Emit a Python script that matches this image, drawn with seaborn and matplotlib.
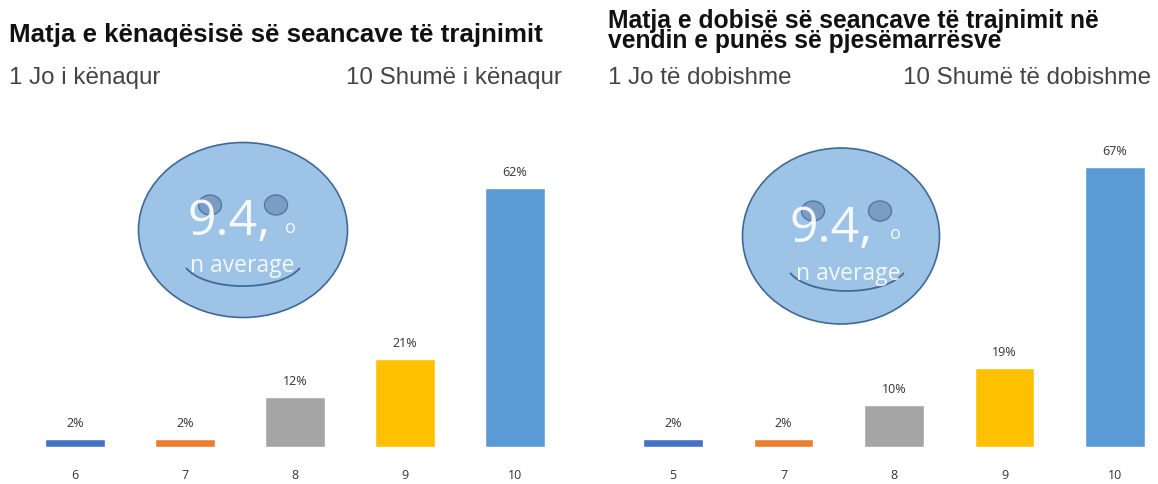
import matplotlib
matplotlib.use('Agg')
import matplotlib.pyplot as plt
from matplotlib.patches import Ellipse, Arc
import pandas as pd
import seaborn as sns

# left chart
title_left = 'Matja e kënaqësisë së seancave të trajnimit'
low_left = '1 Jo i kënaqur'
high_left = '10 Shumë i kënaqur'
scores_left = ['6', '7', '8', '9', '10']
pct_left = [2, 2, 12, 21, 62]

# right chart
title_right = 'Matja e dobisë së seancave të trajnimit në\nvendin e punës së pjesëmarrësve'
low_right = '1 Jo të dobishme'
high_right = '10 Shumë të dobishme'
scores_right = ['5', '7', '8', '9', '10']
pct_right = [2, 2, 10, 19, 67]

colors = ['#4472c4', '#ed7d31', '#a5a5a5', '#ffc000', '#5b9bd5']
W, H = 1158, 485

sns.set_theme(style='white')
plt.rcParams['font.family'] = ['Liberation Sans', 'DejaVu Sans']

fig = plt.figure(figsize=(W/100, H/100), dpi=100)


def bars(box, scores, pct, xmax):
    x0, x1 = box
    ax = fig.add_axes([x0/W, 1-448/H, (x1-x0)/W, 318/H])
    df = pd.DataFrame({'score': scores, 'pct': pct})
    sns.barplot(data=df, x='score', y='pct', hue='score', palette=colors,
                legend=False, width=0.54, saturation=1, ax=ax)
    ax.set_xlim(-0.5, xmax)
    ax.set_ylim(0, 76)
    ax.set_xlabel('')
    ax.set_ylabel('')
    ax.set_yticks([])
    ax.tick_params(axis='x', length=0, pad=15, labelsize=9, labelcolor='#333333')
    for lab in ax.get_xticklabels():
        lab.set_family('Open Sans')
    sns.despine(ax=ax, left=True, bottom=True)
    ax.patch.set_alpha(0)
    for c in ax.containers:
        ax.bar_label(c, fmt='%d%%', padding=7, fontsize=9, color='#333333', family='Open Sans')
    return ax


bars((20, 570), scores_left, pct_left, 4.5)
bars((618, 1158), scores_right, pct_right, 4.39)

# overlay in pixel coordinates for the texts and the smileys
ov = fig.add_axes([0, 0, 1, 1], zorder=5)
ov.set_xlim(0, W)
ov.set_ylim(H, 0)
ov.axis('off')


def face(head, eyes, smile_x, smile_y, big_xy, o_xy, avg_xy):
    ov.add_patch(Ellipse(head[:2], head[2], head[3], fc='#9dc3e6', ec='#3f6a96', lw=1.2))
    for ex in eyes[:2]:
        ov.add_patch(Ellipse((ex, eyes[2]), 23, 20, fc='#7c9cc4', ec='#4f7aa5', lw=1))
    # shallow arc: only the lower part of a wide ellipse
    ov.add_patch(Arc((smile_x, smile_y), 121, 55, theta1=9.3, theta2=170.7, ec='#3f6a96', lw=1.3))
    ov.text(big_xy[0], big_xy[1], '9.4,', color='white', alpha=0.92, fontsize=36,
            family='Open Sans', va='baseline')
    ov.text(o_xy[0], o_xy[1], 'o', color='white', alpha=0.9, fontsize=13,
            family='Open Sans', ha='center', va='center')
    ov.text(avg_xy[0], avg_xy[1], 'n average', color='white', alpha=0.88, fontsize=16.5,
            family='Open Sans', ha='center', va='center')


face((243, 231, 209, 175), (210, 276, 206), 243, 259.6, (187, 235), (290, 228), (242, 266))
face((841, 237, 197, 176), (813, 880, 212), 847, 264.5, (789, 242), (895, 234), (848, 274))

ov.text(9, 35, title_left, fontsize=18.6, fontweight='bold', color='#111111', va='center')
ov.text(608, 31, title_right, fontsize=17.7, fontweight='bold', color='#111111', va='center', linespacing=0.75)
ov.text(9, 78, low_left, fontsize=17.4, color='#444444', va='center')
ov.text(562, 78, high_left, fontsize=17.4, color='#444444', va='center', ha='right')
ov.text(608, 78, low_right, fontsize=17.4, color='#444444', va='center')
ov.text(1151, 78, high_right, fontsize=17.4, color='#444444', va='center', ha='right')

plt.savefig('out.png', dpi=100)
